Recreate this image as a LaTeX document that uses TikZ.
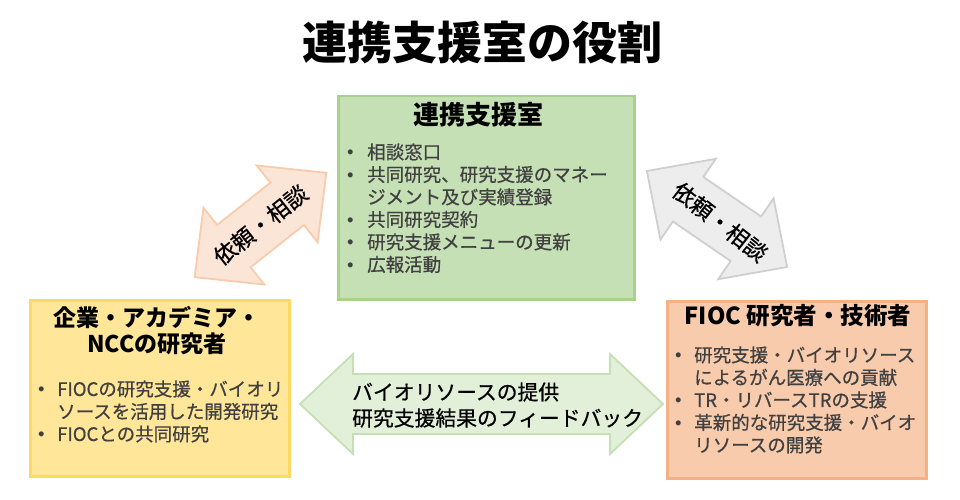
\documentclass[tikz,border=0pt]{standalone}
\usepackage{fontspec}
\setmainfont{Noto Sans CJK JP}
\newfontfamily\jpmed{Noto Sans CJK JP}[FakeBold=0.6]
\newfontfamily\lat{Liberation Sans}
\definecolor{gfill}{HTML}{C5E0B4}
\definecolor{gline}{HTML}{A9D18E}
\definecolor{yfill}{HTML}{FFE699}
\definecolor{yline}{HTML}{FFD966}
\definecolor{ofill}{HTML}{F8CBAD}
\definecolor{oline}{HTML}{F4B183}
\definecolor{pfill}{HTML}{FBE5D6}
\definecolor{pline}{HTML}{F8CBAD}
\definecolor{hfill}{HTML}{EDEDED}
\definecolor{hline}{HTML}{CFCFCF}
\definecolor{cfill}{HTML}{E2F0D9}
\definecolor{cline}{HTML}{C5E0B4}
\definecolor{txt}{HTML}{404040}
\newcommand{\bl}{{\lat •}}
% double arrow outline: #1 half length, #2 head half width, #3 shaft half width, #4 head length
\newcommand{\dblarrowpath}[4]{(-#1,0) -- (-#1+#4,#2) -- (-#1+#4,#3) -- (#1-#4,#3) -- (#1-#4,#2) -- (#1,0)
  -- (#1-#4,-#2) -- (#1-#4,-#3) -- (-#1+#4,-#3) -- (-#1+#4,-#2) -- cycle}
\tikzset{
  rolebox/.style={draw, line width=2.5pt, anchor=north west, inner sep=0pt},
  boxtitle/.style={font=\fontsize{23}{26}\selectfont\bfseries, text=black, align=center, inner sep=0pt},
  blist/.style={anchor=north west, inner sep=0pt, text=txt, font=\fontsize{18.5}{22.5}\selectfont\jpmed},
  arrowshape/.style={line width=1.8pt, line join=miter},
  arrowtext/.style={inner sep=0pt, font=\fontsize{22.5}{22.5}\selectfont\jpmed, text=black},
}
\begin{document}
\begin{tikzpicture}[x=1pt,y=-1pt]
\useasboundingbox (0,0) rectangle (960,500);
% title
\node[font=\fontsize{45}{45}\selectfont\bfseries, inner sep=0pt] (title) at (482,42) {連携支援室の役割};
% boxes
\node[rolebox, fill=gfill, draw=gline, minimum width=296pt, minimum height=203pt] (green) at (337,95) {};
\node[rolebox, fill=yfill, draw=yline, minimum width=259pt, minimum height=176pt] (yellow) at (29,299) {};
\node[rolebox, fill=ofill, draw=oline, minimum width=259pt, minimum height=177pt] (orange) at (666,300) {};
% green content
\node[boxtitle, font=\fontsize{26}{26}\selectfont\bfseries] (gtitle) at (478,115) {連携支援室};
\node[blist] (glist) at (347,143) {\begin{tabular}{@{}p{20pt}@{}l@{}}
\bl & 相談窓口\\
\bl & 共同研究、研究支援のマネー\\
    & ジメント及び実績登録\\
\bl & 共同研究契約\\
\bl & 研究支援メニューの更新\\
\bl & 広報活動
\end{tabular}};
% yellow content
\node[boxtitle] (ytitle) at (157,331) {企業・アカデミア・\\NCCの研究者};
\node[blist] (ylist) at (38,380) {\begin{tabular}{@{}p{19pt}@{}l@{}}
\bl & FIOCの研究支援・バイオリ\\
    & ソースを活用した開発研究\\
\bl & FIOCとの共同研究
\end{tabular}};
% orange content
\node[boxtitle, font=\fontsize{23.5}{26}\selectfont\bfseries] (otitle) at (798,316) {FIOC 研究者・技術者};
\node[blist] (olist) at (675,346) {\begin{tabular}{@{}p{19pt}@{}l@{}}
\bl & 研究支援・バイオリソース\\
    & によるがん医療への貢献\\
\bl & TR・リバースTRの支援\\
\bl & 革新的な研究支援・バイオ\\
    & リソースの開発
\end{tabular}};
% left diagonal arrow
\coordinate (larrow) at (260.5,225);
\begin{scope}[shift={(larrow)}, rotate=38.4]
  \draw[arrowshape, fill=pfill, draw=pline] \dblarrowpath{84}{49}{27}{50};
\end{scope}
\node[arrowtext, rotate=38.4] (ltext) at (larrow) {依頼・相談};
% right diagonal arrow
\coordinate (rarrow) at (717,219);
\begin{scope}[shift={(rarrow)}, rotate=-34.4]
  \draw[arrowshape, fill=hfill, draw=hline] \dblarrowpath{85}{49}{27}{50};
\end{scope}
\node[arrowtext, rotate=-38] (rtext) at (720,222) {依頼・相談};
% centre horizontal arrow
\coordinate (carrow) at (481.5,404);
\begin{scope}[shift={(carrow)}]
  \draw[arrowshape, fill=cfill, draw=cline] \dblarrowpath{181.5}{50}{30}{53};
\end{scope}
\node[anchor=west, align=left, inner sep=0pt, font=\fontsize{20.8}{26}\selectfont\jpmed, text=black] (ctext) at (352,405)
  {バイオリソースの提供\\研究支援結果のフィードバック};
\end{tikzpicture}
\end{document}
